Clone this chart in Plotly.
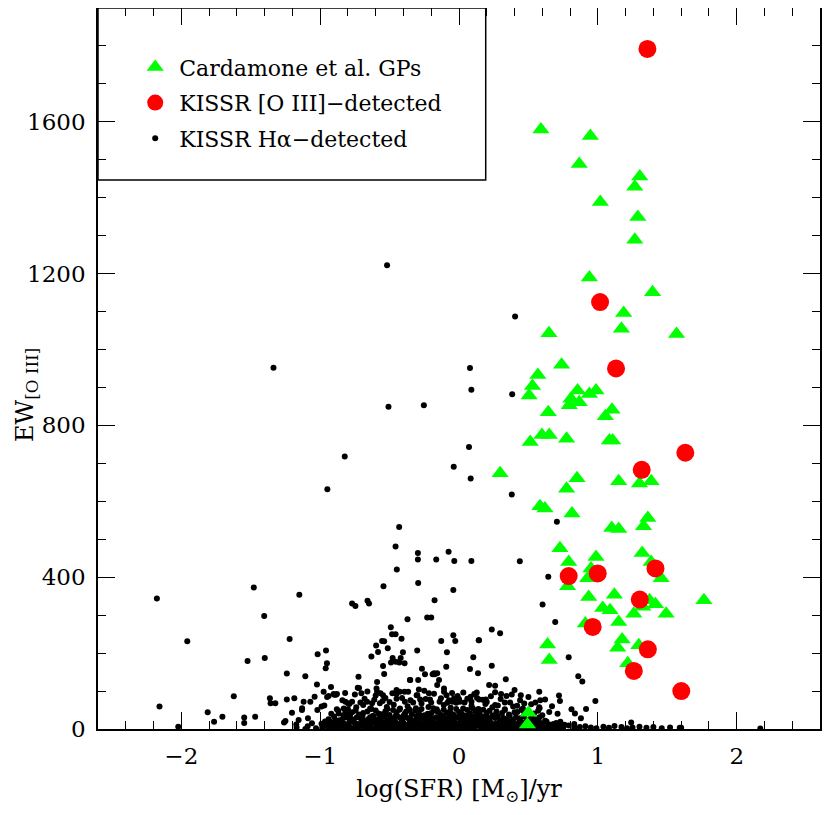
import plotly.graph_objects as go

# Cardamone et al. Green Peas: (log SFR, EW[O III])
gp_points = [
    (0.59, 1580), (0.946, 1563), (0.866, 1489), (1.302, 1456), (1.266, 1429), (1.018, 1389),
    (1.288, 1349), (1.266, 1289), (0.939, 1190), (1.394, 1151), (1.186, 1096), (1.170, 1055),
    (0.648, 1043), (1.567, 1041), (0.739, 960), (0.568, 933), (0.529, 904), (0.505, 879),
    (0.854, 892), (0.806, 870), (0.794, 853), (0.866, 861), (0.939, 883), (0.987, 892),
    (0.643, 835), (1.102, 841), (1.054, 824), (0.513, 756), (0.597, 775), (0.650, 775),
    (0.775, 765), (1.083, 760), (1.107, 760), (0.296, 674), (0.850, 661), (0.775, 633),
    (1.150, 653), (1.300, 647), (1.384, 653), (0.583, 587), (0.619, 581), (0.814, 568),
    (1.360, 556), (1.329, 534), (1.100, 530), (1.150, 527), (0.727, 476), (1.319, 464),
    (0.987, 453), (0.790, 440), (0.951, 423), (0.927, 397), (1.384, 440), (1.456, 397),
    (0.782, 376), (0.934, 348), (1.119, 354), (1.372, 339), (1.415, 329), (1.324, 322),
    (1.035, 319), (1.088, 313), (1.259, 304), (1.492, 304), (1.764, 339), (1.150, 282),
    (0.910, 278), (0.638, 223), (0.650, 182), (1.175, 236), (1.143, 214), (1.295, 221),
    (1.215, 173), (0.500, 43), (0.493, 12),
]

# KISSR [O III]-detected
oiii_points = [
    (1.357, 1792), (1.016, 1125), (1.131, 950), (1.630, 728), (1.316, 683), (1.415, 423),
    (0.999, 410), (0.790, 403), (1.302, 341), (0.963, 269), (1.360, 210), (1.259, 153),
    (1.601, 100),
]

# KISSR Halpha-detected, scattered points above the main clump
ha_sparse = [
    (-0.518, 1222), (-1.336, 952), (0.079, 951), (0.089, 894), (-0.508, 849), (-0.253, 853),
    (0.072, 743), (-0.038, 691), (0.084, 660), (-0.823, 718), (-0.948, 632), (-0.431, 532),
    (-0.457, 481), (0.404, 1087), (0.383, 882), (0.380, 618), (0.705, 546), (0.438, 442),
    (0.643, 401), (0.602, 328), (0.693, 282), (0.236, 262), (0.296, 252), (0.144, 234),
    (0.236, 167), (0.790, 189), (0.859, 139), (0.888, 125), (0.337, 131), (0.217, 116),
    (0.260, 114), (0.578, 98), (0.445, 89), (0.342, 87), (0.303, 92), (0.585, 76),
    (0.727, 74), (0.982, 74), (0.368, 70), (0.419, 61), (0.260, 63), (0.193, 78),
    (0.578, 57), (0.915, 53), (0.835, 41), (0.878, 28),
    (-2.176, 344), (-2.157, 59), (-1.957, 231), (-2.022, 6), (-1.810, 44), (-1.764, 19),
    (-1.704, 32), (-1.622, 86), (-1.547, 30), (-1.547, 16), (-1.523, 179), (-1.478, 373),
    (-1.468, 32), (-1.403, 298), (-1.399, 187), (-1.362, 81), (-1.357, 68), (-1.323, 68),
    (-1.240, 146), (-1.220, 237), (-1.150, 354), (-1.186, 81), (-1.107, 139), (-1.023, 117),
    (-1.018, 197), (-0.958, 207), (-0.951, 173), (-0.960, 160), (-0.922, 111), (-0.898, 90),
    (-0.886, 90), (-0.770, 331), (-0.746, 324), (-0.659, 338), (-0.648, 331), (-0.724, 138),
    (-0.720, 108), (-0.631, 191), (-0.597, 220), (-0.583, 203), (-0.544, 376), (-0.554, 232),
    (-0.539, 231), (-0.513, 213), (-0.491, 268), (-0.482, 250), (-0.457, 250), (-0.448, 420),
    (-0.478, 187), (-0.420, 187), (-0.414, 238), (-0.404, 202), (-0.490, 175), (-0.455, 177),
    (-0.430, 175), (-0.547, 166), (-0.539, 145), (-0.371, 289), (-0.351, 129), (-0.301, 207),
    (-0.296, 464), (-0.296, 447), (-0.294, 385), (-0.267, 159), (-0.245, 144), (-0.229, 294),
    (-0.200, 294), (-0.176, 339), (-0.164, 447), (-0.190, 144), (-0.175, 144), (-0.128, 232),
    (-0.075, 467), (-0.034, 443), (-0.041, 366), (-0.087, 202), (-0.092, 164), (-0.041, 247),
    (-0.027, 232), (0.089, 443), (0.079, 158), (0.103, 189), (0.137, 147), (0.142, 234),
    (-0.975, 98), (-0.939, 87), (-0.903, 92), (-0.879, 92), (-1.040, 85), (-1.071, 72),
    (-1.119, 72), (-1.131, 50), (-1.203, 43), (-1.250, 21), (-1.260, 17), (-1.155, 24),
    (-1.172, 12), (-1.107, 0), (-1.088, 28), (-1.059, 15), (-0.990, 59), (-1.020, 50),
    (-0.818, 72), (-0.800, 68), (-0.830, 54), (-0.818, 45), (-0.794, 37), (-0.866, 41),
    (-0.890, 24), (-0.925, 19), (-0.729, 109), (-0.703, 94), (-0.662, 72), (-0.626, 68),
    (-0.590, 98), (-0.590, 124),
    (-0.392, 173), (-0.180, 147), (-0.157, 147), (-0.144, 129), (-0.157, 116), (-0.108, 107),
    (-0.108, 98), (0.031, 96), (0.084, 85), (0.128, 96), (0.144, 78), (-0.594, 107),
    (-0.565, 94), (-0.547, 89), (-0.450, 103), (-0.426, 98), (-0.450, 92), (-0.392, 98),
    (-0.366, 98), (-0.354, 129), (-0.294, 129), (-0.289, 104), (-0.305, 89), (-0.217, 94),
    (-0.209, 78), (-0.072, 76), (-0.048, 72), (-0.036, 81), (0.007, 72), (-0.084, 69),
    (1.24, 17), (1.60, 3), (2.17, 1),
]

# KISSR Halpha-detected, the dense clump near EW = 0
ha_dense = [
    (-1.17, 4), (-1.09, 7), (-1.03, 2), (-0.96, 9), (-0.91, 5), (-0.87, 3), (-0.83, 8), (-0.79, 6),
    (-0.76, 2), (-0.72, 5), (-0.70, 9), (-0.66, 4), (-0.64, 7), (-0.60, 3), (-0.58, 6), (-0.54, 8),
    (-0.52, 2), (-0.48, 5), (-0.45, 4), (-0.43, 9), (-0.39, 6), (-0.37, 3), (-0.33, 7), (-0.31, 5),
    (-0.27, 8), (-0.25, 2), (-0.21, 6), (-0.19, 4), (-0.15, 9), (-0.13, 3), (-0.09, 7), (-0.06, 5),
    (-0.04, 2), (0.01, 8), (0.03, 4), (0.07, 6), (0.09, 3), (0.13, 9), (0.16, 5), (0.18, 7),
    (0.22, 2), (0.24, 6), (0.28, 8), (0.31, 4), (0.33, 3), (0.37, 7), (0.40, 5), (0.43, 9),
    (0.46, 2), (0.49, 6), (0.52, 4), (0.55, 8), (0.58, 3), (0.61, 5), (0.64, 7), (0.68, 2),
    (0.71, 6), (0.75, 4), (0.79, 9), (0.83, 3), (0.87, 5), (0.91, 7), (0.95, 4), (0.99, 2),
    (1.04, 6), (1.08, 3), (1.12, 8), (1.17, 5), (1.21, 2), (1.25, 4), (1.30, 6), (1.35, 3),
    (1.40, 5), (1.46, 2), (1.52, 4), (1.59, 3),
    (-0.985, 3), (-0.945, 6), (-0.895, 1), (-0.85, 7), (-0.81, 4), (-0.775, 2), (-0.74, 8),
    (-0.68, 3), (-0.65, 6), (-0.62, 1), (-0.59, 8), (-0.56, 4), (-0.53, 6), (-0.50, 3),
    (-0.465, 7), (-0.44, 1), (-0.41, 5), (-0.38, 8), (-0.35, 2), (-0.32, 6), (-0.29, 4),
    (-0.26, 9), (-0.23, 3), (-0.20, 6), (-0.17, 1), (-0.14, 7), (-0.11, 4), (-0.08, 2),
    (-0.05, 8), (-0.02, 5), (0.02, 3), (0.05, 7), (0.08, 1), (0.11, 5), (0.145, 8), (0.17, 2),
    (0.20, 6), (0.23, 4), (0.26, 1), (0.29, 7), (0.32, 5), (0.35, 2), (0.385, 6), (0.415, 3),
    (0.445, 7), (0.475, 4), (0.505, 1), (0.535, 6), (0.565, 3), (0.595, 8), (0.625, 2),
    (0.66, 5), (0.695, 3), (0.73, 6),
    (-0.99, 14), (-0.93, 18), (-0.88, 12), (-0.84, 16), (-0.80, 11), (-0.77, 19), (-0.73, 13),
    (-0.70, 17), (-0.67, 12), (-0.63, 15), (-0.61, 19), (-0.57, 13), (-0.55, 17), (-0.51, 11),
    (-0.49, 15), (-0.46, 19), (-0.42, 12), (-0.40, 16), (-0.36, 14), (-0.34, 18), (-0.30, 11),
    (-0.28, 15), (-0.24, 19), (-0.22, 13), (-0.18, 17), (-0.16, 12), (-0.12, 15), (-0.10, 19),
    (-0.07, 13), (-0.03, 16), (-0.01, 11), (0.02, 18), (0.05, 14), (0.08, 12), (0.11, 17),
    (0.14, 15), (0.17, 19), (0.20, 12), (0.23, 16), (0.26, 13), (0.29, 18), (0.32, 14),
    (0.35, 11), (0.38, 16), (0.42, 13), (0.45, 18), (0.48, 12), (0.52, 15), (0.56, 11),
    (0.60, 14), (0.65, 12), (0.70, 16), (0.76, 11), (0.83, 13),
    (-0.965, 20), (-0.905, 15), (-0.86, 21), (-0.82, 13), (-0.785, 22), (-0.75, 16),
    (-0.715, 10), (-0.685, 21), (-0.65, 14), (-0.62, 22), (-0.59, 11), (-0.565, 21),
    (-0.53, 15), (-0.50, 21), (-0.475, 10), (-0.445, 14), (-0.41, 21), (-0.385, 10),
    (-0.35, 20), (-0.32, 14), (-0.29, 21), (-0.26, 16), (-0.23, 10), (-0.20, 21), (-0.17, 15),
    (-0.14, 21), (-0.11, 10), (-0.085, 16), (-0.05, 21), (-0.02, 14), (0.01, 20), (0.035, 10),
    (0.065, 21), (0.095, 15), (0.125, 21), (0.155, 10), (0.185, 16), (0.215, 21), (0.245, 10),
    (0.275, 14), (0.305, 21), (0.34, 16), (0.37, 20), (0.40, 10), (0.435, 21), (0.465, 15),
    (0.50, 20), (0.54, 21), (0.58, 17), (0.63, 20), (0.68, 13), (0.73, 19),
    (-0.94, 26), (-0.86, 23), (-0.81, 30), (-0.76, 25), (-0.71, 28), (-0.68, 22), (-0.64, 31),
    (-0.59, 24), (-0.56, 29), (-0.52, 22), (-0.47, 27), (-0.44, 32), (-0.41, 24), (-0.37, 29),
    (-0.32, 23), (-0.29, 27), (-0.26, 31), (-0.23, 22), (-0.19, 28), (-0.14, 25), (-0.11, 30),
    (-0.08, 23), (-0.05, 27), (-0.02, 31), (0.01, 24), (0.04, 28), (0.07, 22), (0.10, 26),
    (0.13, 30), (0.16, 23), (0.19, 27), (0.22, 25), (0.26, 29), (0.30, 22), (0.34, 26),
    (0.39, 24), (0.44, 28), (0.49, 23), (0.55, 26), (0.62, 22),
    (-0.90, 33), (-0.835, 28), (-0.785, 34), (-0.735, 31), (-0.695, 35), (-0.655, 26),
    (-0.615, 33), (-0.575, 27), (-0.535, 34), (-0.495, 30), (-0.455, 35), (-0.42, 28),
    (-0.39, 34), (-0.35, 26), (-0.305, 33), (-0.275, 35), (-0.245, 28), (-0.21, 34),
    (-0.165, 31), (-0.125, 35), (-0.095, 28), (-0.065, 34), (-0.035, 25), (0.00, 33),
    (0.025, 29), (0.055, 35), (0.085, 31), (0.115, 34), (0.145, 27), (0.175, 33), (0.205, 30),
    (0.24, 35), (0.28, 33), (0.32, 29), (0.365, 34), (0.41, 31), (0.465, 33), (0.52, 30),
    (0.58, 31),
    (-0.92, 40), (-0.83, 36), (-0.77, 44), (-0.72, 38), (-0.66, 46), (-0.62, 35), (-0.58, 41),
    (-0.53, 47), (-0.50, 37), (-0.45, 43), (-0.40, 35), (-0.38, 46), (-0.34, 39), (-0.29, 44),
    (-0.25, 36), (-0.20, 42), (-0.17, 48), (-0.13, 37), (-0.09, 43), (-0.04, 38), (0.00, 45),
    (0.04, 35), (0.08, 41), (0.12, 47), (0.15, 38), (0.20, 43), (0.25, 36), (0.31, 42),
    (0.36, 38), (0.42, 45), (0.47, 37), (0.54, 41), (0.60, 36), (0.71, 40),
    (-0.87, 48), (-0.80, 52), (-0.745, 49), (-0.69, 42), (-0.64, 54), (-0.60, 49), (-0.555, 39),
    (-0.515, 53), (-0.475, 50), (-0.425, 54), (-0.39, 41), (-0.355, 51), (-0.315, 48),
    (-0.27, 53), (-0.225, 40), (-0.185, 55), (-0.15, 45), (-0.11, 51), (-0.065, 47),
    (-0.02, 53), (0.02, 40), (0.06, 50), (0.10, 54), (0.14, 44), (0.175, 51), (0.22, 48),
    (0.27, 46), (0.33, 50), (0.40, 44), (0.45, 50), (0.50, 47), (0.57, 48), (0.65, 45),
    (-1.13, 55), (-0.97, 62), (-0.88, 52), (-0.79, 66), (-0.74, 57), (-0.69, 63), (-0.63, 53),
    (-0.57, 68), (-0.52, 58), (-0.47, 64), (-0.43, 51), (-0.37, 60), (-0.31, 55), (-0.27, 67),
    (-0.22, 58), (-0.16, 52), (-0.11, 63), (-0.06, 56), (-0.02, 69), (0.03, 54), (0.09, 61),
    (0.14, 53), (0.19, 66), (0.24, 57), (0.28, 62), (0.33, 52), (0.39, 59), (0.46, 54),
    (0.52, 65), (0.58, 55), (0.67, 60), (0.81, 52),
    (-0.82, 95), (-0.77, 72), (-0.71, 70), (-0.66, 99), (-0.61, 77), (-0.53, 82), (-0.50, 71),
    (-0.45, 80), (-0.39, 72), (-0.33, 70), (-0.28, 78), (-0.25, 101), (-0.20, 70), (-0.14, 72),
    (-0.09, 89), (-0.05, 95), (0.00, 79), (0.04, 70), (0.09, 72), (0.13, 82), (0.20, 71),
    (0.26, 97), (0.33, 70), (0.40, 103), (0.47, 67), (0.55, 70),
    (-1.24, 78), (-0.95, 84), (-0.84, 76), (-0.75, 91), (-0.68, 80), (-0.60, 88), (-0.55, 74),
    (-0.48, 94), (-0.41, 82), (-0.35, 76), (-0.30, 89), (-0.24, 79), (-0.18, 93), (-0.13, 81),
    (-0.07, 74), (-0.01, 87), (0.06, 80), (0.11, 92), (0.17, 77), (0.23, 86), (0.30, 79),
    (0.38, 91), (0.44, 76), (0.50, 84), (0.62, 78), (0.72, 88),
]

ha_points = ha_dense + ha_sparse

SERIF = 'DejaVu Serif'

fig = go.Figure()
fig.add_trace(go.Scatter(
    x=[p[0] for p in ha_points], y=[p[1] for p in ha_points],
    mode='markers', name='KISSR H\u03b1\u2212detected',
    marker=dict(color='black', size=6, symbol='circle', line=dict(width=0)),
    legendgroup='c', legendrank=3,
))
fig.add_trace(go.Scatter(
    x=[p[0] for p in gp_points], y=[p[1] for p in gp_points],
    mode='markers', name='Cardamone et al. GPs',
    marker=dict(color='#00ff00', size=15, symbol='triangle-up', line=dict(width=0)),
    legendgroup='a', legendrank=1,
))
fig.add_trace(go.Scatter(
    x=[p[0] for p in oiii_points], y=[p[1] for p in oiii_points],
    mode='markers', name='KISSR [O III]\u2212detected',
    marker=dict(color='#ff0000', size=18, symbol='circle', line=dict(width=0)),
    legendgroup='b', legendrank=2,
))

# legend frame
fig.add_shape(type='rect', xref='paper', yref='paper', x0=0, x1=0.537, y0=0.7615, y1=1,
              line=dict(color='black', width=1.5), fillcolor='rgba(0,0,0,0)')

# y-axis title as a rotated annotation so it can sit beside the tick labels
fig.add_annotation(
    text='EW<sub>[O III]</sub>', textangle=-90, xref='paper', yref='paper',
    x=-0.1, y=0.463, showarrow=False, xanchor='center', yanchor='middle',
    font=dict(family=SERIF, size=24, color='black'),
)

axis_common = dict(
    showline=True, linecolor='black', linewidth=1.5, mirror='allticks',
    ticks='inside', ticklen=17, tickwidth=1.2, tickcolor='black',
    showgrid=False, zeroline=False, automargin=False, ticklabelstandoff=6,
    tickfont=dict(family=SERIF, size=23, color='black'),
)

fig.update_xaxes(
    range=[-2.6, 2.6],
    tickvals=[-2, -1, 0, 1, 2], ticktext=['\u22122', '\u22121', '0', '1', '2'],
    minor=dict(ticks='inside', ticklen=8, dtick=0.2, tick0=0, tickcolor='black', tickwidth=1.2),
    title=dict(text='log(SFR) [M<sub>\u2299</sub>]/yr', font=dict(family=SERIF, size=24, color='black'), standoff=12),
    **axis_common,
)
fig.update_yaxes(
    range=[0, 1900], tick0=0, dtick=400,
    minor=dict(ticks='inside', ticklen=8, dtick=100, tick0=0, tickcolor='black', tickwidth=1.2),
    **axis_common,
)

fig.update_layout(
    width=830, height=815,
    margin=dict(l=90, r=18, t=0, b=94, autoexpand=False),
    paper_bgcolor='white', plot_bgcolor='white',
    showlegend=True,
    legend=dict(
        x=0.046, y=0.947, xanchor='left', yanchor='top',
        bgcolor='rgba(0,0,0,0)', borderwidth=0,
        font=dict(family=SERIF, size=22, color='black'),
        traceorder='grouped', tracegroupgap=4, itemwidth=38,
    ),
)

fig.write_html("out.html")
